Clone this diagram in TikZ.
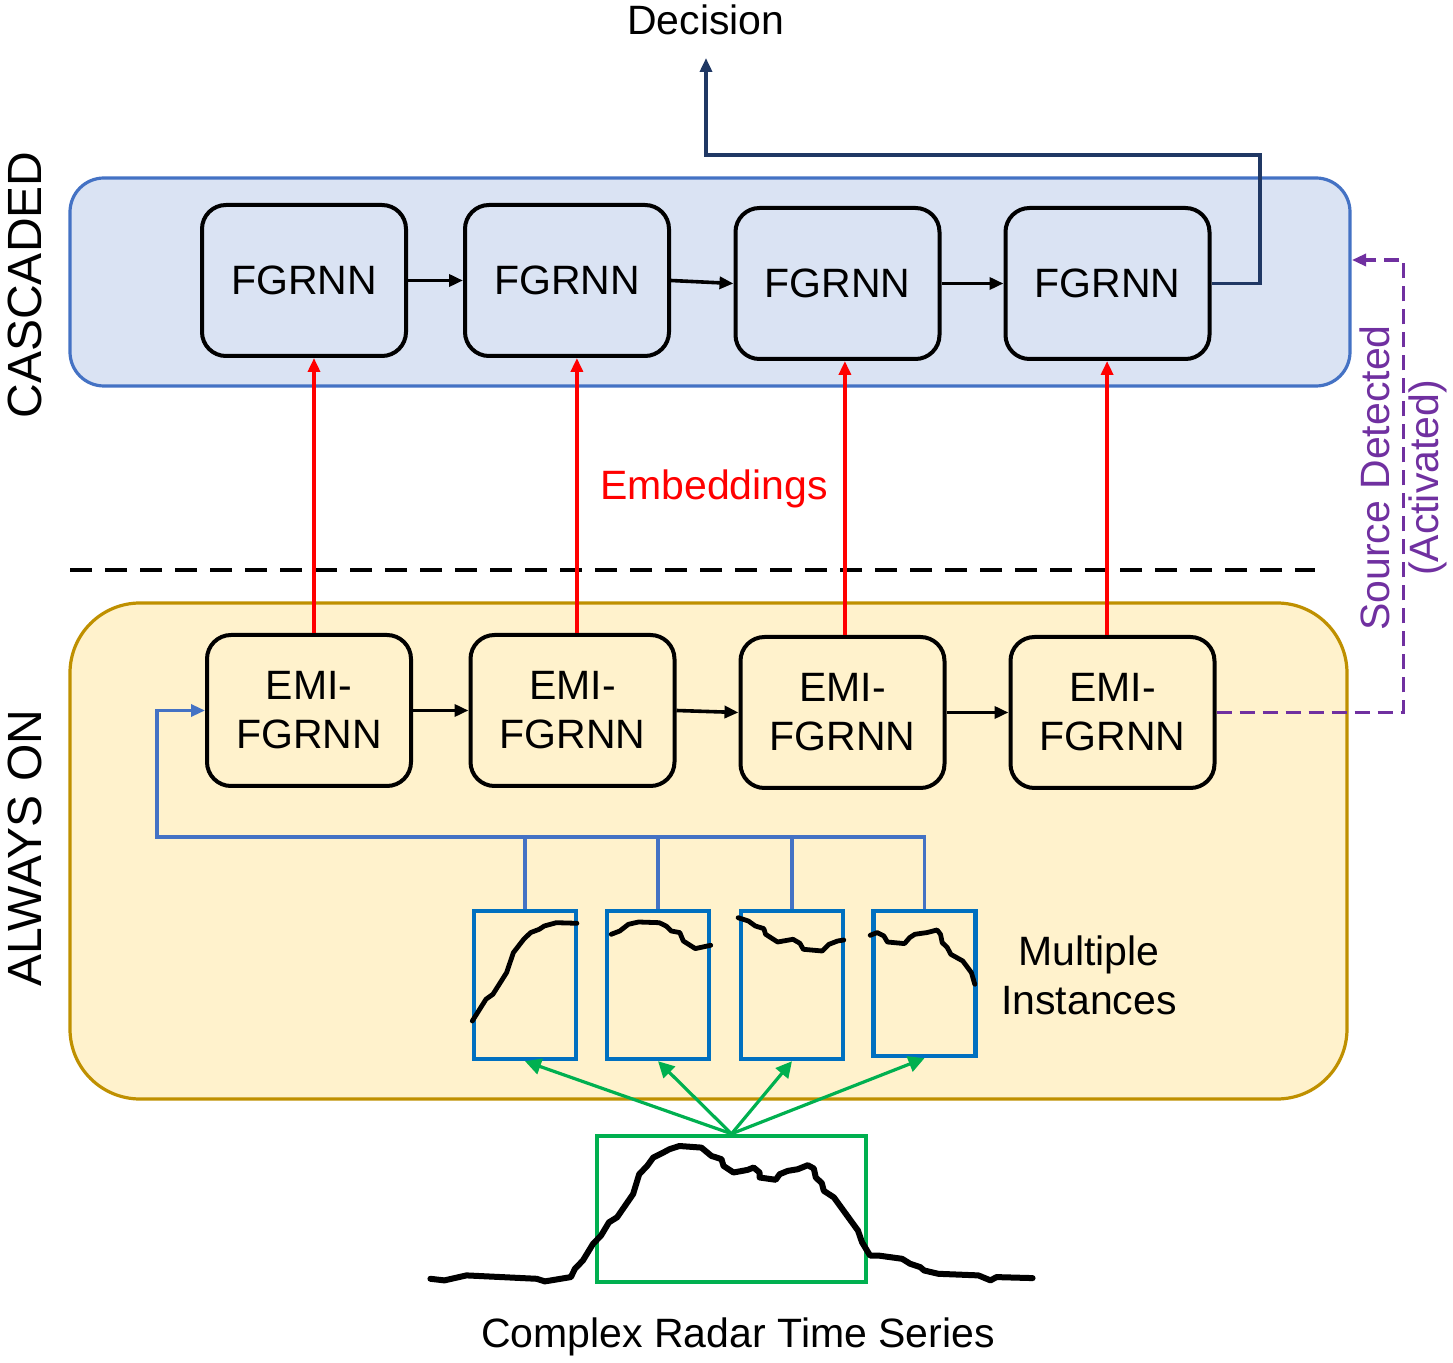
\documentclass[tikz,border=0pt]{standalone}
\usepackage{fontspec}
\setmainfont{Liberation Sans}
\usetikzlibrary{arrows.meta,positioning}
\definecolor{cascFill}{HTML}{DAE3F3}
\definecolor{cascLine}{HTML}{4472C4}
\definecolor{aonFill}{HTML}{FFF2CC}
\definecolor{aonLine}{HTML}{BF9000}
\definecolor{decBlue}{HTML}{203864}
\definecolor{instBlue}{HTML}{0070C0}
\definecolor{srcPurple}{HTML}{7030A0}
\definecolor{grnBox}{HTML}{00B050}

\begin{document}
\begin{tikzpicture}[x=0.5pt,y=-0.5pt,
  lbl/.style={font=\fontsize{20.5}{24.5}\selectfont,inner sep=0pt,align=center},
  side/.style={font=\fontsize{24}{28}\selectfont,inner sep=0pt,rotate=90},
  cell/.style={lbl,draw=black,line width=2pt,rounded corners=12pt,minimum width=102pt,minimum height=75.5pt},
  inst/.style={draw=instBlue,line width=2.2pt,minimum width=51pt,minimum height=74pt,inner sep=0pt},
  tip/.style={-{Triangle[length=7pt,width=6pt]}},
  flow/.style={tip,line width=1.8pt},
  embed/.style={tip,line width=2pt,red},
  feed/.style={line width=1.6pt,cascLine},
  decide/.style={tip,line width=1.8pt,decBlue},
  srcline/.style={tip,line width=1.6pt,srcPurple,dash pattern=on 7.5pt off 4pt},
  spread/.style={-{Triangle[length=8pt,width=8pt]},line width=1.6pt,grnBox},
  trace/.style={line width=3pt,line join=round,line cap=round}]
\useasboundingbox (0,0) rectangle (1453,1363);

\draw[fill=cascFill,draw=cascLine,line width=1.6pt,rounded corners=17pt] (70,178) rectangle (1350,386);
\draw[fill=aonFill,draw=aonLine,line width=1.6pt,rounded corners=35pt] (70,603) rectangle (1347,1099);
\draw[line width=1.8pt,dash pattern=on 11pt off 6.5pt] (70,570) -- (1315,570);

\node[side] (cas) at (25,285) {CASCADED};
\node[side] (aon) at (25,848) {ALWAYS ON};

\node[cell] (F1) at (304,280.5) {FGRNN};
\node[cell] (F2) at (567,280.5) {FGRNN};
\node[cell] (F3) at (837.5,283.5) {FGRNN};
\node[cell] (F4) at (1107.5,283.5) {FGRNN};

\node[cell] (E1) at (309,710.5) {EMI-\\FGRNN};
\node[cell] (E2) at (572.5,710.5) {EMI-\\FGRNN};
\node[cell] (E3) at (842.5,712.5) {EMI-\\FGRNN};
\node[cell] (E4) at (1112.5,712.5) {EMI-\\FGRNN};

\draw[flow] (F1.east) -- (F2.west);
\draw[flow] (F2.east) -- (F3.west);
\draw[flow] (F3.east) -- (F4.west);
\draw[flow] (E1.east) -- (E2.west);
\draw[flow] (E2.east) -- (E3.west);
\draw[flow] (E3.east) -- (E4.west);

\foreach \i/\d in {1/2.5,2/2.2,3/1.2,4/-2.7}
  \draw[embed] ([xshift=\d pt]E\i.north) -- ([xshift=\d pt]E\i.north |- F\i.south);
\node[lbl,red] (emb) at (714,489) {Embeddings};

\coordinate (out) at (706,58);
\coordinate (bend) at (1260,155);
\node[lbl,above=11.5pt of out] (dec) {Decision};
\draw[decide] (F4.east) -| (bend) -| (out);

\coordinate (wake) at (1352,260);
\draw[srcline] (E4.east) -- ++(187,0) |- (wake);
\node[lbl,rotate=90,srcPurple] (src) at (1403,478) {Source Detected\\(Activated)};

\node[inst] (I1) at (525,985) {};
\node[inst] (I2) at (658,985) {};
\node[inst] (I3) at (792,985) {};
\node[inst,minimum height=72.5pt] (I4) at (924.5,983.5) {};
\node[lbl] (multi) at (1089,975) {Multiple\\Instances};

\coordinate (bus) at (157,837);
\foreach \i in {1,2,3}
  \draw[feed] (I\i.north) -- (I\i.north |- bus);
\draw[feed,tip] (I4.north) |- (bus) |- (E1.west);

\draw[trace,line width=2.4pt] (472.3,1021) -- (486.0,999.2) -- (492.9,994.3) -- (506.6,972.6) -- (513.4,952.6) -- (523.7,939.3) -- (530.6,932.6) -- (539.2,929.3) -- (544.3,926.0) -- (556.3,922.7) -- (576.9,923.3);
\draw[trace,line width=2.4pt] (611.2,934.3) -- (619.8,931.0) -- (628.4,924.3) -- (638.6,922.0) -- (659.2,922.7) -- (666.1,926.0) -- (671.3,931.0) -- (679.8,932.6) -- (683.3,941.0) -- (695.3,948.6) -- (710.7,945.3);
\draw[trace,line width=2.4pt] (738.1,917.7) -- (748.4,921.0) -- (755.3,926.0) -- (763.8,928.6) -- (765.6,934.3) -- (777.6,942.0) -- (793.0,939.3) -- (799.9,943.3) -- (803.3,949.3) -- (822.2,951.0) -- (829.0,944.3) -- (837.6,941.0) -- (843.8,940.0);
\draw[trace,line width=2.4pt] (870.2,935.3) -- (877.1,932.6) -- (883.9,936.0) -- (887.4,942.0) -- (904.5,943.6) -- (909.7,937.6) -- (914.8,934.3) -- (926.8,932.6) -- (937.1,930.0) -- (940.5,934.3) -- (942.2,942.6) -- (947.3,947.6) -- (950.8,954.3) -- (962.8,961.0) -- (971.4,972.6) -- (974.8,984.3);

\node[draw=grnBox,line width=2.2pt,minimum width=134.5pt,minimum height=73pt,inner sep=0pt] (G) at (731.5,1209) {};
\draw[trace] (430.4,1278.8) -- (444.4,1280.4) -- (466.5,1275.4) -- (536.8,1278.8) -- (544.8,1281.4) -- (570.9,1277.1) -- (574.9,1268.8) -- (582.9,1260.5) -- (593.0,1243.9) -- (601.0,1235.6) -- (609.0,1222.3) -- (617.1,1217.3) -- (633.1,1194.1) -- (639.2,1174.2) -- (647.2,1165.9) -- (653.2,1157.6) -- (663.2,1152.6) -- (669.3,1149.3) -- (679.3,1146.0) -- (701.4,1147.6) -- (707.4,1152.6) -- (711.4,1155.9) -- (721.5,1159.2) -- (723.5,1165.9) -- (733.5,1172.5) -- (747.6,1169.9) -- (753.6,1167.5) -- (759.6,1172.5) -- (759.6,1177.5) -- (775.7,1179.8) -- (779.7,1174.2) -- (787.7,1170.9) -- (797.8,1169.2) -- (807.8,1165.2) -- (813.8,1168.5) -- (815.8,1177.5) -- (821.8,1183.1) -- (823.8,1190.8) -- (833.9,1197.4) -- (858.0,1230.6) -- (862.0,1242.2) -- (870.0,1255.5) -- (878.1,1255.5) -- (902.1,1258.8) -- (910.2,1263.8) -- (920.2,1267.1) -- (924.2,1270.5) -- (938.3,1273.8) -- (978.4,1275.4) -- (990.5,1280.4) -- (996.5,1277.1) -- (1032.6,1278.1);
\foreach \i in {1,...,4}
  \draw[spread] (G.north) -- (I\i.south);
\node[lbl] (crts) at (738,1337) {Complex Radar Time Series};
\end{tikzpicture}
\end{document}
